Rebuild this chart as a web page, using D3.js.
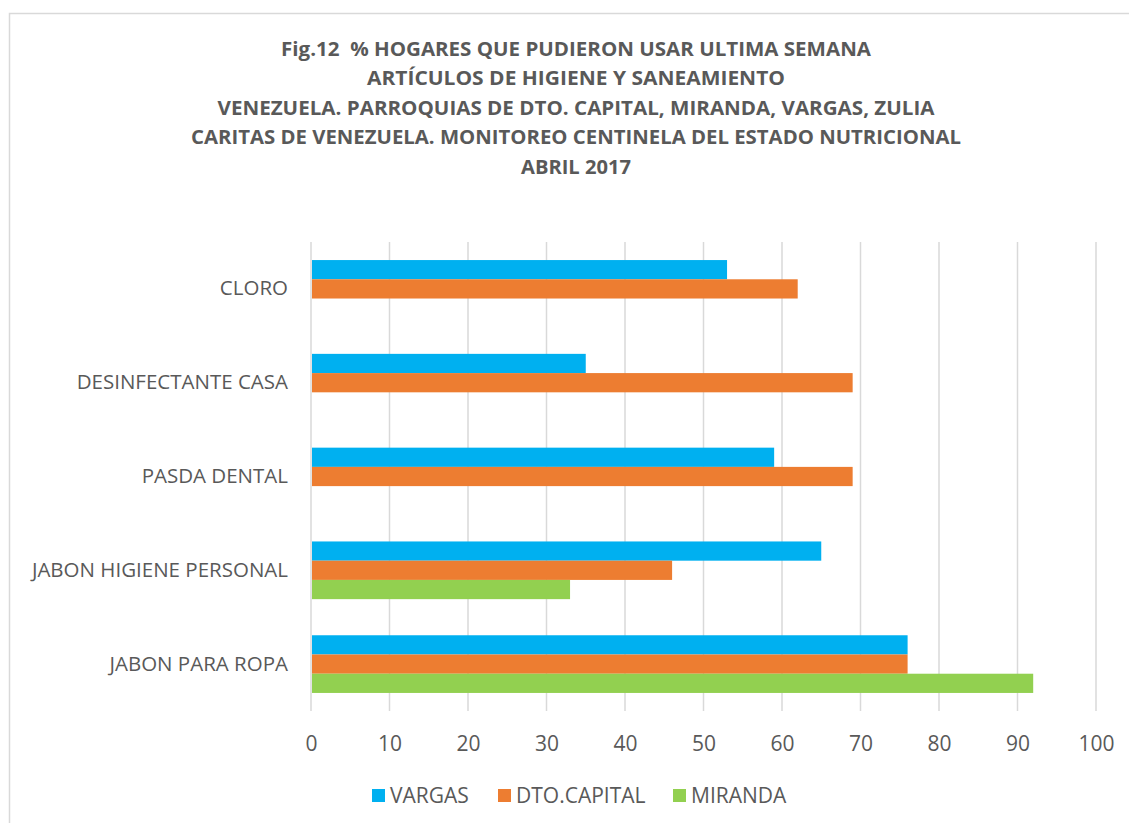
<!DOCTYPE html>
<html>
<head>
<meta charset="utf-8">
<script src="https://cdn.jsdelivr.net/npm/d3@7"></script>
<style>
  body { margin: 0; background: #fff; }
  text { font-family: "Open Sans", sans-serif; fill: #595959; white-space: pre; }
</style>
</head>
<body>
<div id="chart"></div>
<script>
// data
var categories = ["CLORO", "DESINFECTANTE CASA", "PASDA DENTAL", "JABON HIGIENE PERSONAL", "JABON PARA ROPA"];
var seriesNames = ["VARGAS", "DTO.CAPITAL", "MIRANDA"];
var vargas = [53, 35, 59, 65, 76];
var dtoCapital = [62, 69, 69, 46, 76];
var miranda = [null, null, null, 33, 92];
var xTicks = [0, 10, 20, 30, 40, 50, 60, 70, 80, 90, 100];
var titleLines = [
    "Fig.12  % HOGARES QUE PUDIERON USAR ULTIMA SEMANA",
    "ARTÍCULOS DE HIGIENE Y SANEAMIENTO",
    "VENEZUELA. PARROQUIAS DE DTO. CAPITAL, MIRANDA, VARGAS, ZULIA",
    "CARITAS DE VENEZUELA. MONITOREO CENTINELA DEL ESTADO NUTRICIONAL",
    "ABRIL 2017"
];
var titleWidths = [590, 418, 717, 770, 110];
var colors = ["#00B0F0", "#ED7D31", "#92D050"];

var svgWidth = 1129;
var svgHeight = 823;

var margin = {top: 242, right: 33, bottom: 112, left: 311};
var width = svgWidth - margin.left - margin.right;
var height = svgHeight - margin.top - margin.bottom;

var svg = d3.select("#chart")
    .append("svg")
    .attr("width", svgWidth)
    .attr("height", svgHeight);

// chart area border (runs off the right and bottom of the picture)
svg.append("rect")
    .attr("x", 9.5)
    .attr("y", 13.5)
    .attr("width", 1140)
    .attr("height", 830)
    .attr("fill", "none")
    .attr("stroke", "#D9D9D9")
    .attr("stroke-width", 1.5);

// title
svg.append("g").selectAll("text")
    .data(titleLines)
    .enter()
    .append("text")
    .attr("x", 576)
    .attr("y", (d, i) => 55.5 + i * 29.5)
    .attr("text-anchor", "middle")
    .attr("font-size", "19.5px")
    .attr("font-weight", "bold")
    .attr("textLength", (d, i) => titleWidths[i])
    .attr("lengthAdjust", "spacingAndGlyphs")
    .text(d => d);

var chartGroup = svg.append("g")
    .attr("transform", `translate(${margin.left}, ${margin.top})`);

var xScale = d3.scaleLinear()
    .domain([0, 100])
    .range([0, width]);

var yScale = d3.scaleBand()
    .domain(categories)
    .range([0, height])
    .paddingInner(0.385)
    .paddingOuter(0.1925);

var ySeries = d3.scaleBand()
    .domain(seriesNames)
    .range([0, yScale.bandwidth()]);

// gridlines
chartGroup.append("g")
    .selectAll("line")
    .data(xTicks)
    .enter()
    .append("line")
    .attr("x1", d => xScale(d))
    .attr("x2", d => xScale(d))
    .attr("y1", 0)
    .attr("y2", height)
    .attr("stroke", "#D9D9D9")
    .attr("stroke-width", 1.5);

// x axis labels
var bottomAxis = d3.axisBottom(xScale)
    .tickValues(xTicks)
    .tickSize(0)
    .tickPadding(25);
var xAxis = chartGroup.append("g")
    .attr("transform", `translate(0, ${height})`)
    .call(bottomAxis);
xAxis.select(".domain").remove();
xAxis.selectAll("text")
    .attr("font-size", "21px")
    .attr("font-family", "Open Sans, sans-serif")
    .attr("fill", "#595959");

// category labels
var leftAxis = d3.axisLeft(yScale)
    .tickSize(0)
    .tickPadding(23);
var yAxis = chartGroup.append("g")
    .call(leftAxis);
yAxis.select(".domain").remove();
yAxis.selectAll("text")
    .attr("font-size", "20.5px")
    .attr("font-family", "Open Sans, sans-serif")
    .attr("fill", "#595959");

// bars
var allSeries = [vargas, dtoCapital, miranda];
var barData = [];
categories.forEach((c, i) => {
    allSeries.forEach((s, j) => {
        if (s[i] != null) {
            barData.push({cat: c, series: seriesNames[j], value: s[i], color: colors[j]});
        }
    });
});

chartGroup.append("g")
    .selectAll("rect")
    .data(barData)
    .enter()
    .append("rect")
    .attr("x", xScale(0) + 1)
    .attr("y", d => yScale(d.cat) + ySeries(d.series))
    .attr("width", d => xScale(d.value) - xScale(0) - 1)
    .attr("height", ySeries.bandwidth())
    .attr("fill", d => d.color);

// legend
var legendX = [372, 498, 673];
var legend = svg.append("g")
    .selectAll("g")
    .data(seriesNames)
    .enter()
    .append("g")
    .attr("transform", (d, i) => `translate(${legendX[i]}, 789)`);
legend.append("rect")
    .attr("width", 13)
    .attr("height", 13)
    .attr("fill", (d, i) => colors[i]);
legend.append("text")
    .attr("x", 18)
    .attr("y", 14)
    .attr("font-size", "21px")
    .text(d => d);
</script>
</body>
</html>
